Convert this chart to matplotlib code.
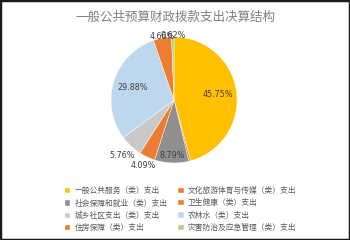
import numpy as np
import matplotlib
matplotlib.use('Agg')
import matplotlib.pyplot as plt
from matplotlib.patches import Rectangle

plt.rcParams['font.family'] = ['Noto Sans CJK SC', 'DejaVu Sans']

title = '一般公共预算财政拨款支出决算结构'
categories = ['一般公共服务（类）支出', '文化旅游体育与传媒（类）支出', '社会保障和就业（类）支出',
              '卫生健康（类）支出', '城乡社区支出（类）支出', '农林水（类）支出',
              '住房保障（类）支出', '灾害防治及应急管理（类）支出']
values = [45.75, 0.45, 8.79, 4.09, 5.76, 29.88, 4.66, 0.62]
colors = ['#FFC000', '#ED7D31', '#8F8F8F', '#ED7D31', '#C9C9C9', '#BDD7EE', '#ED7D31', '#A9D18E']
# label distance from centre (fraction of radius), None = no label
label_dist = [0.7, None, 0.88, 1.15, 1.2, 0.68, 1.03, 1.03]

W, H = 350, 240
fig = plt.figure(figsize=(W / 100, H / 100), dpi=100)

# pie centre (174, 100) px from top-left, radius 63 px
cx, cy, r = 174, 100, 63
half = 90
ax = fig.add_axes([(cx - half) / W, (H - cy - half) / H, 2 * half / W, 2 * half / H])

wedges, _ = ax.pie(values, colors=colors, radius=r, startangle=90, counterclock=False,
                   wedgeprops=dict(edgecolor='white', linewidth=0.3))
ax.set_xlim(-half, half)
ax.set_ylim(-half, half)
ax.axis('off')

total = sum(values)
cum = 0
for v, d in zip(values, label_dist):
    mid = 90 - (cum + v / 2) / total * 360
    cum += v
    if d is None:
        continue
    a = np.deg2rad(mid)
    ax.text(d * r * np.cos(a), d * r * np.sin(a), f'{v:.2f}%', ha='center', va='center',
            fontsize=5.8, color='#404040', family='DejaVu Sans')

fig.text(0.5, 1 - 17 / H, title, ha='center', va='center', fontsize=9, color='#808080')

order = [0, 2, 4, 6, 1, 3, 5, 7]
fig.legend([wedges[i] for i in order], [categories[i] for i in order], ncol=2,
           loc='upper left', bbox_to_anchor=(58 / W, 1 - 180 / H), frameon=False,
           fontsize=5.6, handlelength=0.7, handleheight=0.7, handletextpad=0.5,
           labelspacing=0.55, columnspacing=1.4, labelcolor='#595959')

fig.patches.append(Rectangle((0, 0), 1, 1, transform=fig.transFigure, fill=False,
                             edgecolor='#1a1a1a', linewidth=2.5))

fig.savefig('out.png', dpi=100, facecolor='white')
